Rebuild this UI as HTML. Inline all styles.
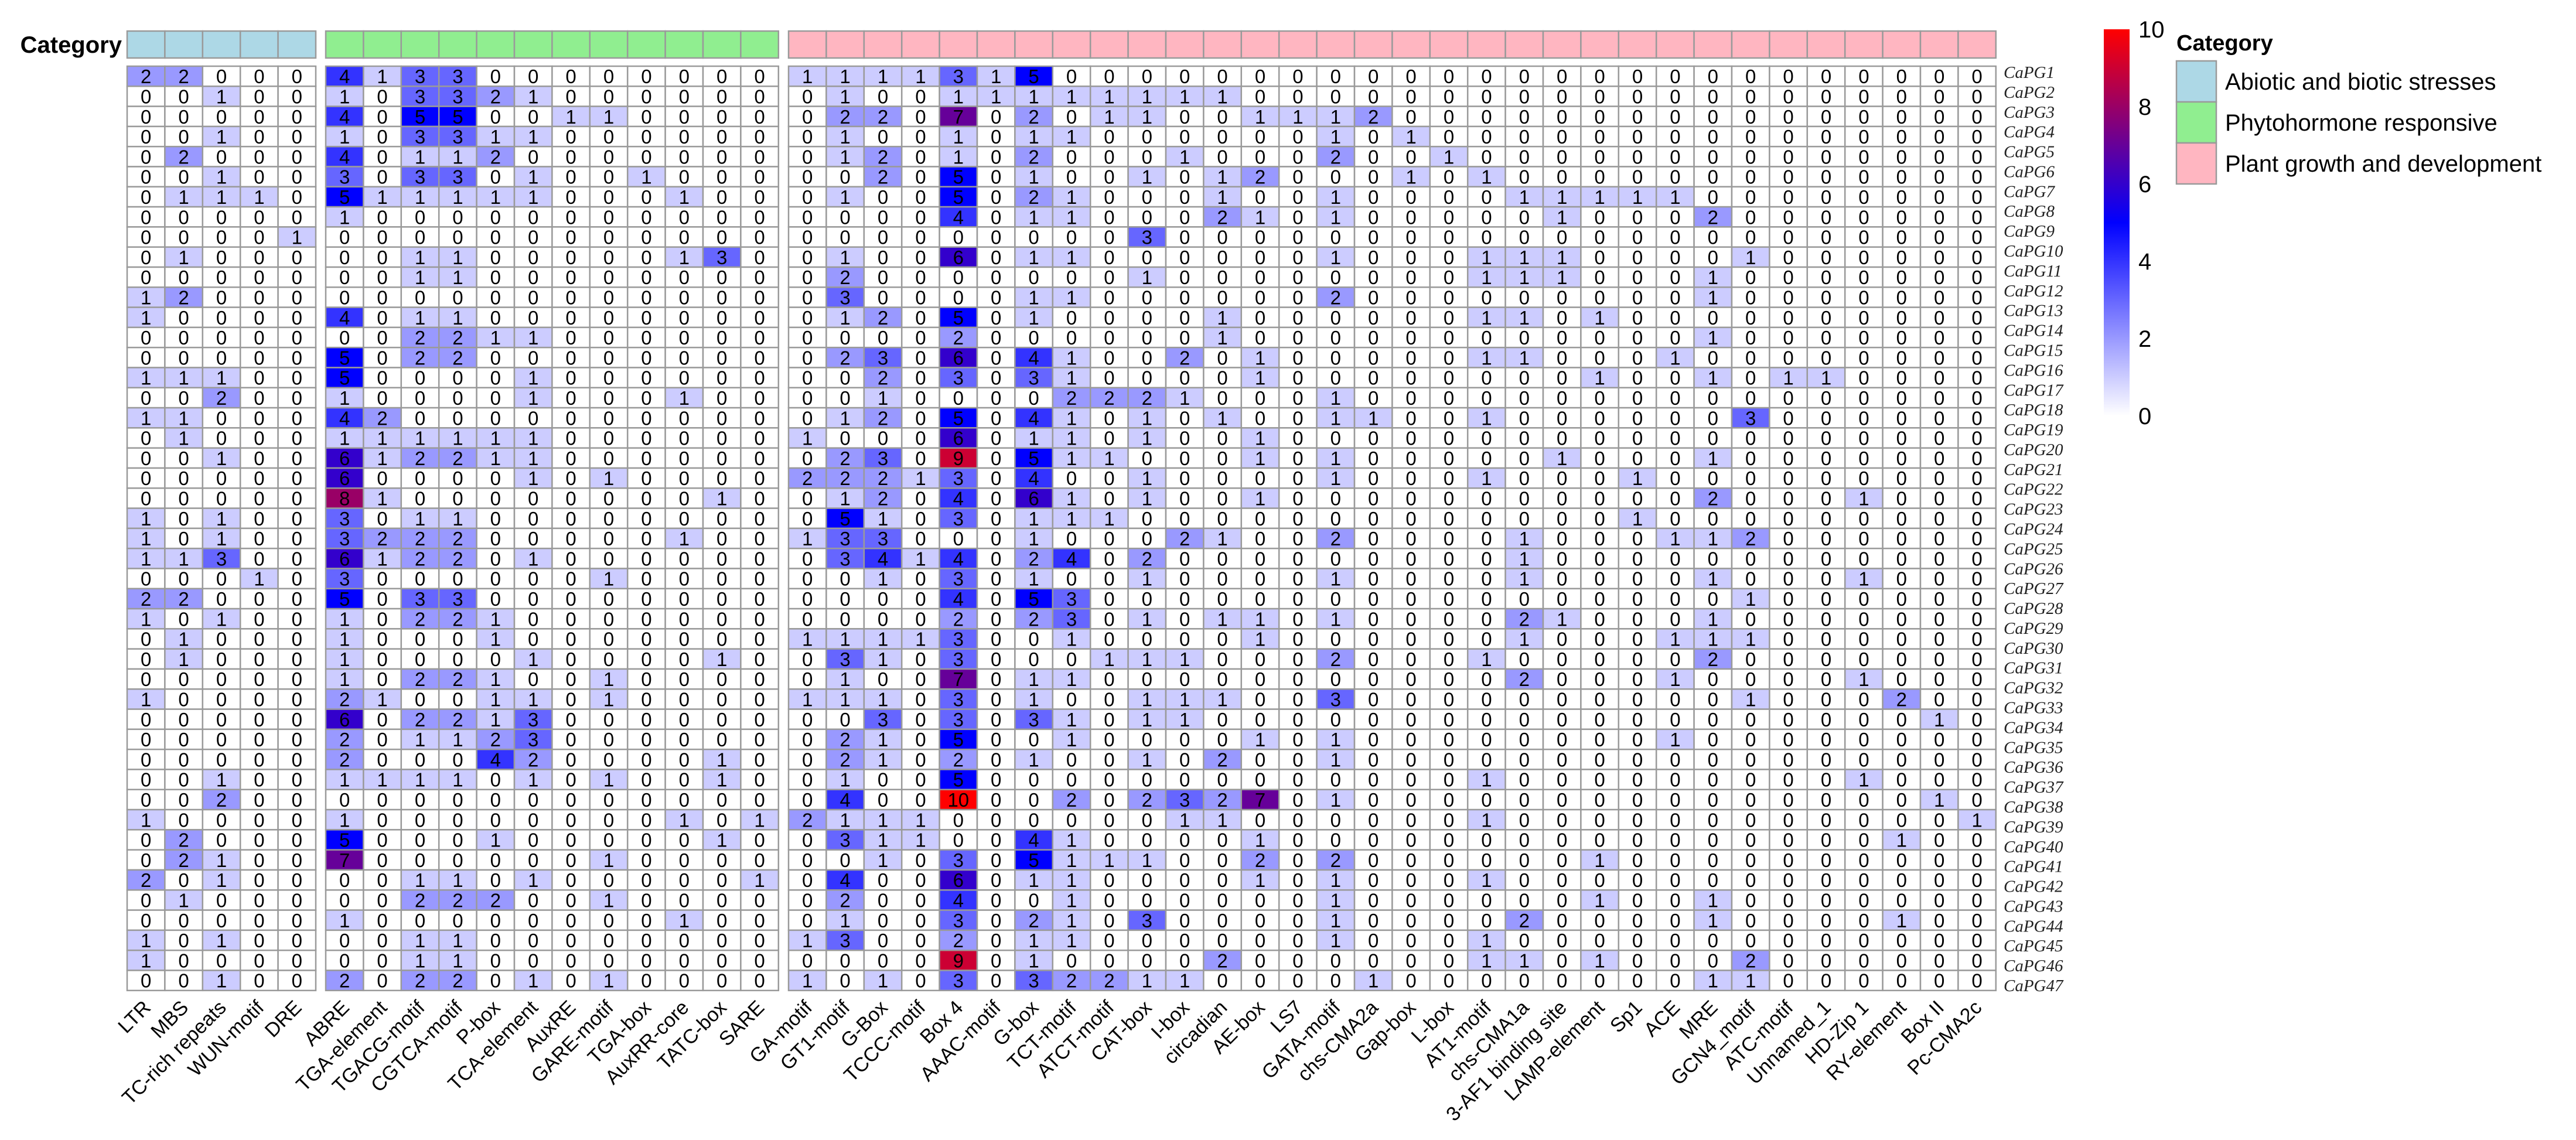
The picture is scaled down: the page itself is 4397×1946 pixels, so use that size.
<!DOCTYPE html>
<html><head><meta charset="utf-8"><style>
html,body{margin:0;padding:0;background:#fff;}
svg{display:block;font-family:"Liberation Sans",Arial,sans-serif;}
</style></head><body>
<svg id="chart" width="4397" height="1946" viewBox="0 0 4397 1946" xmlns="http://www.w3.org/2000/svg">
<defs>
<linearGradient id="cbar" x1="0" y1="1" x2="0" y2="0">
<stop offset="0" stop-color="#ffffff"/><stop offset="0.5" stop-color="#0000ff"/><stop offset="1" stop-color="#ff0000"/>
</linearGradient>
</defs>
</svg>
<script>
const abioticCols = ["LTR","MBS","TC-rich repeats","WUN-motif","DRE"];
const phytoCols = ["ABRE","TGA-element","TGACG-motif","CGTCA-motif","P-box","TCA-element","AuxRE","GARE-motif","TGA-box","AuxRR-core","TATC-box","SARE"];
const plantCols = ["GA-motif","GT1-motif","G-Box","TCCC-motif","Box 4","AAAC-motif","G-box","TCT-motif","ATCT-motif","CAT-box","I-box","circadian","AE-box","LS7","GATA-motif","chs-CMA2a","Gap-box","L-box","AT1-motif","chs-CMA1a","3-AF1 binding site","LAMP-element","Sp1","ACE","MRE","GCN4_motif","ATC-motif","Unnamed_1","HD-Zip 1","RY-element","Box II","Pc-CMA2c"];
const geneLabels = Array.from({length:47},(_,i)=>"CaPG"+(i+1));
const categoryNames = ["Abiotic and biotic stresses","Phytohormone responsive","Plant growth and development"];
const categoryColors = ["#add8e6","#90ee90","#ffb6c1"];
const colorTicks = [0,2,4,6,8,10];

const abioticValues = [
[2,2,0,0,0],[0,0,1,0,0],[0,0,0,0,0],[0,0,1,0,0],[0,2,0,0,0],[0,0,1,0,0],[0,1,1,1,0],[0,0,0,0,0],[0,0,0,0,1],[0,1,0,0,0],
[0,0,0,0,0],[1,2,0,0,0],[1,0,0,0,0],[0,0,0,0,0],[0,0,0,0,0],[1,1,1,0,0],[0,0,2,0,0],[1,1,0,0,0],[0,1,0,0,0],[0,0,1,0,0],
[0,0,0,0,0],[0,0,0,0,0],[1,0,1,0,0],[1,0,1,0,0],[1,1,3,0,0],[0,0,0,1,0],[2,2,0,0,0],[1,0,1,0,0],[0,1,0,0,0],[0,1,0,0,0],
[0,0,0,0,0],[1,0,0,0,0],[0,0,0,0,0],[0,0,0,0,0],[0,0,0,0,0],[0,0,1,0,0],[0,0,2,0,0],[1,0,0,0,0],[0,2,0,0,0],[0,2,1,0,0],
[2,0,1,0,0],[0,1,0,0,0],[0,0,0,0,0],[1,0,1,0,0],[1,0,0,0,0],[0,0,1,0,0]];

const phytoValues = [
[4,1,3,3,0,0,0,0,0,0,0,0],[1,0,3,3,2,1,0,0,0,0,0,0],[4,0,5,5,0,0,1,1,0,0,0,0],[1,0,3,3,1,1,0,0,0,0,0,0],[4,0,1,1,2,0,0,0,0,0,0,0],
[3,0,3,3,0,1,0,0,1,0,0,0],[5,1,1,1,1,1,0,0,0,1,0,0],[1,0,0,0,0,0,0,0,0,0,0,0],[0,0,0,0,0,0,0,0,0,0,0,0],[0,0,1,1,0,0,0,0,0,1,3,0],
[0,0,1,1,0,0,0,0,0,0,0,0],[0,0,0,0,0,0,0,0,0,0,0,0],[4,0,1,1,0,0,0,0,0,0,0,0],[0,0,2,2,1,1,0,0,0,0,0,0],[5,0,2,2,0,0,0,0,0,0,0,0],
[5,0,0,0,0,1,0,0,0,0,0,0],[1,0,0,0,0,1,0,0,0,1,0,0],[4,2,0,0,0,0,0,0,0,0,0,0],[1,1,1,1,1,1,0,0,0,0,0,0],[6,1,2,2,1,1,0,0,0,0,0,0],
[6,0,0,0,0,1,0,1,0,0,0,0],[8,1,0,0,0,0,0,0,0,0,1,0],[3,0,1,1,0,0,0,0,0,0,0,0],[3,2,2,2,0,0,0,0,0,1,0,0],[6,1,2,2,0,1,0,0,0,0,0,0],
[3,0,0,0,0,0,0,1,0,0,0,0],[5,0,3,3,0,0,0,0,0,0,0,0],[1,0,2,2,1,0,0,0,0,0,0,0],[1,0,0,0,1,0,0,0,0,0,0,0],[1,0,0,0,0,1,0,0,0,0,1,0],
[1,0,2,2,1,0,0,1,0,0,0,0],[2,1,0,0,1,1,0,1,0,0,0,0],[6,0,2,2,1,3,0,0,0,0,0,0],[2,0,1,1,2,3,0,0,0,0,0,0],[2,0,0,0,4,2,0,0,0,0,1,0],
[1,1,1,1,0,1,0,1,0,0,1,0],[0,0,0,0,0,0,0,0,0,0,0,0],[1,0,0,0,0,0,0,0,0,1,0,1],[5,0,0,0,1,0,0,0,0,0,1,0],[7,0,0,0,0,0,0,1,0,0,0,0],
[0,0,1,1,0,1,0,0,0,0,0,1],[0,0,2,2,2,0,0,1,0,0,0,0],[1,0,0,0,0,0,0,0,0,1,0,0],[0,0,1,1,0,0,0,0,0,0,0,0],[0,0,1,1,0,0,0,0,0,0,0,0],
[2,0,2,2,0,1,0,1,0,0,0,0]];

const plantValues = [
[1,1,1,1,3,1,5,0,0,0,0,0,0,0, 0,0,0,0,0,0,0,0,0,0,0,0,0,0,0,0, 0,0],
[0,1,0,0,1,1,1,1,1,1,1,1,0,0, 0,0,0,0,0,0,0,0,0,0,0,0,0,0,0,0, 0,0],
[0,2,2,0,7,0,2,0,1,1,0,0,1,1, 1,2,0,0,0,0,0,0,0,0,0,0,0,0,0,0, 0,0],
[0,1,0,0,1,0,1,1,0,0,0,0,0,0, 1,0,1,0,0,0,0,0,0,0,0,0,0,0,0,0, 0,0],
[0,1,2,0,1,0,2,0,0,0,1,0,0,0, 2,0,0,1,0,0,0,0,0,0,0,0,0,0,0,0, 0,0],
[0,0,2,0,5,0,1,0,0,1,0,1,2,0, 0,0,1,0,1,0,0,0,0,0,0,0,0,0,0,0, 0,0],
[0,1,0,0,5,0,2,1,0,0,0,1,0,0, 1,0,0,0,0,1,1,1,1,1,0,0,0,0,0,0, 0,0],
[0,0,0,0,4,0,1,1,0,0,0,2,1,0, 1,0,0,0,0,0,1,0,0,0,2,0,0,0,0,0, 0,0],
[0,0,0,0,0,0,0,0,0,3,0,0,0,0, 0,0,0,0,0,0,0,0,0,0,0,0,0,0,0,0, 0,0],
[0,1,0,0,6,0,1,1,0,0,0,0,0,0, 1,0,0,0,1,1,1,0,0,0,0,1,0,0,0,0, 0,0],
[0,2,0,0,0,0,0,0,0,1,0,0,0,0, 0,0,0,0,1,1,1,0,0,0,1,0,0,0,0,0, 0,0],
[0,3,0,0,0,0,1,1,0,0,0,0,0,0, 2,0,0,0,0,0,0,0,0,0,1,0,0,0,0,0, 0,0],
[0,1,2,0,5,0,1,0,0,0,0,1,0,0, 0,0,0,0,1,1,0,1,0,0,0,0,0,0,0,0, 0,0],
[0,0,0,0,2,0,0,0,0,0,0,1,0,0, 0,0,0,0,0,0,0,0,0,0,1,0,0,0,0,0, 0,0],
[0,2,3,0,6,0,4,1,0,0,2,0,1,0, 0,0,0,0,1,1,0,0,0,1,0,0,0,0,0,0, 0,0],
[0,0,2,0,3,0,3,1,0,0,0,0,1,0,0,0, 0,0,0,0,0,1,0,0,1,0,1,1,0,0,0,0],
[0,0,1,0,0,0,0,2,2,2,1,0,0,0,1,0, 0,0,0,0,0,0,0,0,0,0,0,0,0,0,0,0],
[0,1,2,0,5,0,4,1,0,1,0,1,0,0,1,1, 0,0,1,0,0,0,0,0,0,3,0,0,0,0,0,0],
[1,0,0,0,6,0,1,1,0,1,0,0,1,0,0,0, 0,0,0,0,0,0,0,0,0,0,0,0,0,0,0,0],
[0,2,3,0,9,0,5,1,1,0,0,0,1,0,1,0, 0,0,0,0,1,0,0,0,1,0,0,0,0,0,0,0],
[2,2,2,1,3,0,4,0,0,1,0,0,0,0,1,0, 0,0,1,0,0,0,1,0,0,0,0,0,0,0,0,0],
[0,1,2,0,4,0,6,1,0,1,0,0,1,0,0,0, 0,0,0,0,0,0,0,0,2,0,0,0,1,0,0,0],
[0,5,1,0,3,0,1,1,1,0,0,0,0,0,0,0, 0,0,0,0,0,0,1,0,0,0,0,0,0,0,0,0],
[1,3,3,0,0,0,1,0,0,0,2,1,0,0,2,0, 0,0,0,1,0,0,0,1,1,2,0,0,0,0,0,0],
[0,3,4,1,4,0,2,4,0,2,0,0,0,0,0,0, 0,0,0,1,0,0,0,0,0,0,0,0,0,0,0,0],
[0,0,1,0,3,0,1,0,0,1,0,0,0,0,1,0, 0,0,0,1,0,0,0,0,1,0,0,0,1,0,0,0],
[0,0,0,0,4,0,5,3,0,0,0,0,0,0,0,0, 0,0,0,0,0,0,0,0,0,1,0,0,0,0,0,0],
[0,0,0,0,2,0,2,3,0,1,0,1,1,0,1,0, 0,0,0,2,1,0,0,0,1,0,0,0,0,0,0,0],
[1,1,1,1,3,0,0,1,0,0,0,0,1,0,0,0, 0,0,0,1,0,0,0,1,1,1,0,0,0,0,0,0],
[0,3,1,0,3,0,0,0,1,1,1,0,0,0,2,0, 0,0,1,0,0,0,0,0,2,0,0,0,0,0,0,0],
[0,1,0,0,7,0,1,1,0,0,0,0,0,0,0,0, 0,0,0,2,0,0,0,1,0,0,0,0,1,0,0,0],
[1,1,1,0,3,0,1,0,0,1,1,1,0,0,3,0, 0,0,0,0,0,0,0,0,0,1,0,0,0,2,0,0],
[0,0,3,0,3,0,3,1,0,1,1,0,0,0,0,0, 0,0,0,0,0,0,0,0,0,0,0,0,0,0,1,0],
[0,2,1,0,5,0,0,1,0,0,0,0,1,0,1,0, 0,0,0,0,0,0,0,1,0,0,0,0,0,0,0,0],
[0,2,1,0,2,0,1,0,0,1,0,2,0,0,1,0, 0,0,0,0,0,0,0,0,0,0,0,0,0,0,0,0],
[0,1,0,0,5,0,0,0,0,0,0,0,0,0,0,0, 0,0,1,0,0,0,0,0,0,0,0,0,1,0,0,0],
[0,4,0,0,10,0,0,2,0,2,3,2,7,0,1,0, 0,0,0,0,0,0,0,0,0,0,0,0,0,0,1,0],
[2,1,1,1,0,0,0,0,0,0,1,1,0,0,0,0, 0,0,1,0,0,0,0,0,0,0,0,0,0,0,0,1],
[0,3,1,1,0,0,4,1,0,0,0,0,1,0,0,0, 0,0,0,0,0,0,0,0,0,0,0,0,0,1,0,0],
[0,0,1,0,3,0,5,1,1,1,0,0,2,0,2,0, 0,0,0,0,0,1,0,0,0,0,0,0,0,0,0,0],
[0,4,0,0,6,0,1,1,0,0,0,0,1,0,1,0, 0,0,1,0,0,0,0,0,0,0,0,0,0,0,0,0],
[0,2,0,0,4,0,0,1,0,0,0,0,0,0,1,0, 0,0,0,0,0,1,0,0,1,0,0,0,0,0,0,0],
[0,1,0,0,3,0,2,1,0,3,0,0,0,0,1,0, 0,0,0,2,0,0,0,0,1,0,0,0,0,1,0,0],
[1,3,0,0,2,0,1,1,0,0,0,0,0,0,1,0, 0,0,1,0,0,0,0,0,0,0,0,0,0,0,0,0],
[0,0,0,0,9,0,1,0,0,0,0,2,0,0,0,0, 0,0,1,1,0,1,0,0,0,2,0,0,0,0,0,0],
[1,0,1,0,3,0,3,2,2,1,1,0,0,0,0,1, 0,0,0,0,0,0,0,0,1,1,0,0,0,0,0,0]];

const NS="http://www.w3.org/2000/svg";
const svgRoot=document.getElementById('chart');
function mk(tag,attrs,parent){const e=document.createElementNS(NS,tag);for(const k in attrs)e.setAttribute(k,attrs[k]);(parent||svgRoot).appendChild(e);return e;}

const blockDefs=[{cols:abioticCols,vals:abioticValues,x0:217},{cols:phytoCols,vals:phytoValues,x0:556},{cols:plantCols,vals:plantValues,x0:1346}];
const cw=64.4, gridTop=113, rh=34.3, vmax=10;
const nRows=abioticValues.length;
function xOf(b,c){return blockDefs[b].x0+c*cw;}
function yOf(r){return gridTop+r*rh;}
function lerp(a,b,t){return Math.round(a+(b-a)*t);}
function colorOf(v){
  const t=Math.max(0,Math.min(1,v/vmax));
  if(t<=0.5){const u=t/0.5;return `rgb(${lerp(255,0,u)},${lerp(255,0,u)},255)`;}
  const u=(t-0.5)/0.5;return `rgb(${lerp(0,255,u)},0,${lerp(255,0,u)})`;
}

const ct=mk('text',{x:208,y:90,'text-anchor':'end','font-size':40,'font-weight':'bold',fill:'#000'});
ct.textContent='Category';



blockDefs.forEach((bk,b)=>{
  const g=mk('g',{});
  
  
  bk.cols.forEach((c,ci)=>{
    const a=mk('rect',{x:xOf(b,ci),y:53,width:cw,height:46,fill:categoryColors[b],stroke:'#9a9a9a','stroke-width':2.5},g);
    
    
  });
  for(let r=0;r<nRows;r++){
    bk.cols.forEach((c,ci)=>{
      const v=bk.vals[r][ci];
      const rc=mk('rect',{x:xOf(b,ci),y:yOf(r),width:cw,height:rh,fill:colorOf(v),stroke:'#9a9a9a','stroke-width':2.5},g);
      
      
      const t=mk('text',{x:xOf(b,ci)+cw/2,y:yOf(r)+rh/2+12,'text-anchor':'middle','font-size':33,fill:'#000'},g);
      t.textContent=String(v);
      
      
    });
  }
  bk.cols.forEach((c,ci)=>{
    const cx=xOf(b,ci)+cw/2+10, cy=1722;
    const t=mk('text',{x:cx,y:cy,'text-anchor':'end','font-size':34,fill:'#000',transform:`rotate(-45 ${cx} ${cy})`},g);
    t.textContent=c;
    
    
  });
});

const labTop=124, labBot=1683;
geneLabels.forEach((l,i)=>{
  const y=labTop+(labBot-labTop)*i/(geneLabels.length-1)+9;
  const t=mk('text',{x:3420,y:y,'font-size':29,'font-style':'italic','font-family':'"Liberation Serif",serif',fill:'#222'});
  t.textContent=l;
  
  
});

const cbTop=50, cbBot=710;
const cb=mk('rect',{x:3591,y:cbTop,width:44,height:cbBot-cbTop,fill:'url(#cbar)'});


colorTicks.forEach(v=>{
  const y=cbBot-(cbBot-cbTop)*v/vmax+14;
  const t=mk('text',{x:3650,y:y,'font-size':40,fill:'#000'});
  t.textContent=String(v);
  
  
});

const lt=mk('text',{x:3715,y:86,'font-size':38,'font-weight':'bold',fill:'#000'});
lt.textContent='Category';


categoryNames.forEach((n,i)=>{
  const y=104+i*70;
  const s=mk('rect',{x:3715,y:y,width:68,height:70,fill:categoryColors[i],stroke:'#9a9a9a','stroke-width':2.5});
  
  
  const t=mk('text',{x:3798,y:y+49,'font-size':40,fill:'#000'});
  t.textContent=n;
  
  
});
</script>
</body></html>
